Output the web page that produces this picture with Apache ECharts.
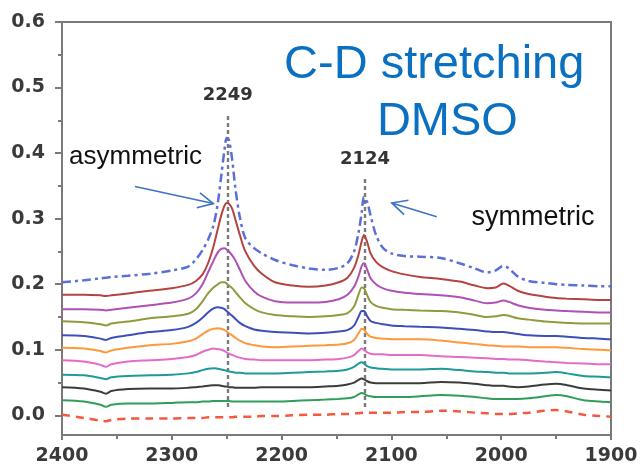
<!DOCTYPE html>
<html>
<head>
<meta charset="utf-8">
<script src="https://cdn.jsdelivr.net/npm/echarts@6/dist/echarts.min.js"></script>
<style>
  html, body { margin: 0; padding: 0; background: #fff; }
  #chart { width: 643px; height: 467px; }
</style>
</head>
<body>
<div id="chart"></div>
<script>
// Wavenumber grid (cm-1) shared by all spectra
const wavenumbers = [2400, 2380, 2365, 2360, 2355, 2340, 2320, 2300, 2285, 2278, 2272, 2267, 2262, 2258, 2255, 2252, 2250, 2248, 2245, 2242, 2238, 2233, 2225, 2218, 2206, 2190, 2175, 2160, 2148, 2140, 2134, 2130, 2127, 2125, 2122, 2119, 2114, 2108, 2100, 2088, 2074, 2055, 2038, 2024, 2013, 2005, 1998, 1993, 1985, 1975, 1960, 1950, 1940, 1925, 1910, 1900];

// Absorbance traces, bottom to top
const redDashed = [0.001, -0.004, -0.008, -0.009, -0.007, -0.005, -0.005, -0.005, -0.004, -0.004, -0.004, -0.003, -0.003, -0.003, -0.003, -0.003, -0.003, -0.003, -0.003, -0.002, -0.002, -0.002, -0.002, -0.001, -0.001, 0.000, 0.001, 0.001, 0.002, 0.002, 0.003, 0.003, 0.004, 0.004, 0.004, 0.004, 0.004, 0.004, 0.004, 0.005, 0.005, 0.007, 0.006, 0.004, 0.003, 0.002, 0.002, 0.002, 0.003, 0.004, 0.007, 0.008, 0.006, 0.001, -0.001, -0.002];
const green = [0.023, 0.021, 0.016, 0.013, 0.016, 0.018, 0.018, 0.019, 0.020, 0.020, 0.021, 0.021, 0.022, 0.022, 0.022, 0.022, 0.022, 0.022, 0.021, 0.021, 0.021, 0.021, 0.021, 0.021, 0.021, 0.022, 0.023, 0.024, 0.025, 0.026, 0.028, 0.032, 0.034, 0.033, 0.030, 0.029, 0.028, 0.028, 0.028, 0.028, 0.029, 0.031, 0.030, 0.028, 0.026, 0.025, 0.025, 0.025, 0.025, 0.026, 0.029, 0.031, 0.029, 0.023, 0.021, 0.020];
const black = [0.043, 0.041, 0.036, 0.033, 0.037, 0.040, 0.041, 0.041, 0.042, 0.043, 0.044, 0.045, 0.046, 0.046, 0.045, 0.044, 0.044, 0.043, 0.043, 0.042, 0.042, 0.042, 0.042, 0.043, 0.043, 0.043, 0.043, 0.044, 0.045, 0.047, 0.050, 0.054, 0.056, 0.055, 0.052, 0.050, 0.049, 0.049, 0.049, 0.049, 0.049, 0.051, 0.050, 0.048, 0.046, 0.045, 0.045, 0.044, 0.043, 0.044, 0.047, 0.048, 0.046, 0.041, 0.039, 0.038];
const teal = [0.062, 0.061, 0.057, 0.055, 0.058, 0.060, 0.061, 0.062, 0.064, 0.066, 0.069, 0.071, 0.072, 0.071, 0.070, 0.069, 0.068, 0.067, 0.066, 0.065, 0.065, 0.064, 0.064, 0.064, 0.064, 0.065, 0.066, 0.067, 0.068, 0.070, 0.074, 0.079, 0.081, 0.079, 0.075, 0.073, 0.072, 0.071, 0.070, 0.070, 0.070, 0.071, 0.069, 0.067, 0.066, 0.065, 0.065, 0.064, 0.064, 0.064, 0.065, 0.066, 0.064, 0.060, 0.059, 0.058];
const pink = [0.084, 0.082, 0.077, 0.074, 0.078, 0.082, 0.084, 0.086, 0.089, 0.092, 0.097, 0.100, 0.102, 0.101, 0.100, 0.098, 0.096, 0.094, 0.092, 0.090, 0.088, 0.086, 0.085, 0.084, 0.084, 0.084, 0.084, 0.085, 0.086, 0.088, 0.092, 0.098, 0.102, 0.100, 0.096, 0.094, 0.093, 0.093, 0.092, 0.092, 0.092, 0.090, 0.089, 0.088, 0.087, 0.086, 0.086, 0.085, 0.085, 0.084, 0.082, 0.081, 0.080, 0.079, 0.078, 0.078];
const orange = [0.103, 0.102, 0.098, 0.096, 0.099, 0.103, 0.107, 0.109, 0.113, 0.117, 0.124, 0.129, 0.132, 0.133, 0.132, 0.130, 0.128, 0.125, 0.122, 0.118, 0.114, 0.110, 0.107, 0.105, 0.104, 0.105, 0.106, 0.107, 0.108, 0.110, 0.115, 0.125, 0.132, 0.131, 0.124, 0.120, 0.118, 0.117, 0.116, 0.116, 0.116, 0.114, 0.111, 0.109, 0.107, 0.106, 0.105, 0.105, 0.105, 0.104, 0.104, 0.104, 0.103, 0.101, 0.100, 0.099];
const blue = [0.122, 0.121, 0.117, 0.115, 0.118, 0.122, 0.127, 0.130, 0.135, 0.141, 0.149, 0.157, 0.163, 0.165, 0.164, 0.162, 0.159, 0.156, 0.152, 0.147, 0.141, 0.136, 0.131, 0.129, 0.127, 0.126, 0.125, 0.126, 0.128, 0.130, 0.137, 0.150, 0.159, 0.159, 0.151, 0.144, 0.141, 0.139, 0.137, 0.136, 0.135, 0.134, 0.132, 0.130, 0.128, 0.127, 0.127, 0.126, 0.124, 0.122, 0.121, 0.121, 0.120, 0.118, 0.117, 0.116];
const olive = [0.1435, 0.142, 0.139, 0.137, 0.140, 0.143, 0.148, 0.151, 0.155, 0.162, 0.174, 0.186, 0.195, 0.200, 0.203, 0.203, 0.201, 0.198, 0.194, 0.188, 0.180, 0.171, 0.162, 0.157, 0.153, 0.151, 0.150, 0.151, 0.153, 0.156, 0.166, 0.184, 0.195, 0.194, 0.183, 0.173, 0.167, 0.164, 0.162, 0.161, 0.160, 0.159, 0.157, 0.153, 0.150, 0.151, 0.153, 0.152, 0.148, 0.146, 0.143, 0.142, 0.141, 0.140, 0.140, 0.140];
const purple = [0.162, 0.162, 0.161, 0.160, 0.161, 0.164, 0.168, 0.172, 0.178, 0.186, 0.200, 0.218, 0.236, 0.249, 0.254, 0.255, 0.253, 0.250, 0.244, 0.236, 0.222, 0.205, 0.189, 0.181, 0.174, 0.172, 0.172, 0.173, 0.177, 0.184, 0.196, 0.212, 0.228, 0.232, 0.222, 0.209, 0.200, 0.194, 0.190, 0.187, 0.185, 0.183, 0.180, 0.175, 0.171, 0.172, 0.175, 0.173, 0.168, 0.164, 0.161, 0.160, 0.159, 0.158, 0.157, 0.157];
const brown = [0.184, 0.184, 0.183, 0.182, 0.183, 0.186, 0.190, 0.194, 0.199, 0.205, 0.215, 0.232, 0.258, 0.285, 0.305, 0.320, 0.324, 0.323, 0.315, 0.298, 0.275, 0.250, 0.228, 0.216, 0.203, 0.198, 0.196, 0.198, 0.203, 0.210, 0.225, 0.245, 0.266, 0.275, 0.264, 0.247, 0.234, 0.226, 0.220, 0.215, 0.211, 0.208, 0.204, 0.198, 0.194, 0.195, 0.201, 0.198, 0.190, 0.185, 0.181, 0.179, 0.178, 0.177, 0.176, 0.176];
const blueDashDot = [0.203, 0.206, 0.209, 0.210, 0.211, 0.213, 0.216, 0.221, 0.227, 0.238, 0.252, 0.268, 0.290, 0.325, 0.365, 0.405, 0.423, 0.420, 0.390, 0.345, 0.302, 0.270, 0.255, 0.247, 0.237, 0.229, 0.224, 0.222, 0.225, 0.232, 0.250, 0.278, 0.310, 0.333, 0.325, 0.305, 0.275, 0.256, 0.247, 0.243, 0.242, 0.240, 0.232, 0.224, 0.218, 0.221, 0.228, 0.224, 0.212, 0.205, 0.202, 0.200, 0.199, 0.198, 0.197, 0.197];

// Axis ticks
const yTickValues = [0, 0.1, 0.2, 0.3, 0.4, 0.5, 0.6];
const yMinorTickValues = [0.05, 0.15, 0.25, 0.35, 0.45, 0.55];

// Band positions marked with dashed guides
const peakAsym = 2249;
const peakSym = 2124;

const traces = [
  { data: redDashed, color: '#f4583f', type: [8, 6], width: 2.5 },
  { data: green, color: '#2f9e5c' },
  { data: black, color: '#3b3b3b' },
  { data: teal, color: '#1f9a9c' },
  { data: pink, color: '#e46cc6' },
  { data: orange, color: '#ff983a' },
  { data: blue, color: '#3e4fb8' },
  { data: olive, color: '#8f9b3d' },
  { data: purple, color: '#b050b4' },
  { data: brown, color: '#b3443f' },
  { data: blueDashDot, color: '#5a6fd8', type: [9, 4, 3, 4], width: 2.5 }
];

const axisGray = '#7a7a7a';
const tickFont = { fontFamily: 'DejaVu Sans', fontSize: 19, fontWeight: 'bold', color: '#3a3a3a' };

const chart = echarts.init(document.getElementById('chart'));

const series = traces.map((t, k) => ({
  type: 'line',
  data: wavenumbers.map((w, i) => [w, t.data[i]]),
  showSymbol: false,
  symbol: 'none',
  smooth: 0.3,
  lineStyle: { color: t.color, width: t.width || 2, type: t.type || 'solid' },
  z: 2 + k,
  animation: false
}));

// Dashed guides at the two C-D bands, with their wavenumbers on top
series[0].markLine = {
  silent: true,
  symbol: 'none',
  animation: false,
  lineStyle: { color: '#7a7a7a', width: 2.4, type: [4, 3] },
  label: {
    position: 'end',
    distance: 9,
    fontFamily: 'DejaVu Sans',
    fontSize: 18,
    fontWeight: 'bold',
    color: '#333'
  },
  data: [
    [{ coord: [peakAsym, 0.0127], label: { formatter: String(peakAsym) } }, { coord: [peakAsym, 0.461] }],
    [{ coord: [peakSym, 0.0127], label: { formatter: String(peakSym) } }, { coord: [peakSym, 0.3635] }]
  ]
};

chart.setOption({
  animation: false,
  grid: { left: 62, right: 32, top: 22, bottom: 32, show: true, borderColor: axisGray, borderWidth: 2 },
  xAxis: {
    type: 'value',
    min: 1900,
    max: 2400,
    interval: 100,
    inverse: true,
    axisLine: { show: true, onZero: false, lineStyle: { color: axisGray, width: 2 } },
    axisTick: { show: true, length: 5, lineStyle: { color: axisGray, width: 2 } },
    minorTick: { show: true, splitNumber: 2, length: 4, lineStyle: { color: axisGray, width: 2 } },
    axisLabel: Object.assign({ margin: 12, formatter: v => String(v) }, tickFont),
    splitLine: { show: false }
  },
  yAxis: [
    {
      type: 'value',
      min: -0.03,
      max: 0.6,
      axisLine: { show: true, onZero: false, lineStyle: { color: axisGray, width: 2 } },
      axisTick: { show: true, customValues: yTickValues, length: 7, lineStyle: { color: axisGray, width: 2 } },
      axisLabel: Object.assign({ customValues: yTickValues, margin: 17, formatter: v => v.toFixed(1) }, tickFont),
      splitLine: { show: false }
    },
    {
      type: 'value',
      min: -0.03,
      max: 0.6,
      position: 'left',
      axisLine: { show: false },
      axisTick: { show: true, customValues: yMinorTickValues, length: 4, lineStyle: { color: axisGray, width: 2 } },
      axisLabel: { show: false },
      splitLine: { show: false }
    }
  ],
  series: series
});

// Annotations placed in data coordinates
const toPx = p => chart.convertToPixel({ gridIndex: 0 }, p);
const arrowColor = '#3d72c2';

function arrow(from, to) {
  const a = toPx(from), b = toPx(to);
  const ang = Math.atan2(b[1] - a[1], b[0] - a[0]);
  const len = 17, spread = 0.46;
  const w1 = [b[0] - len * Math.cos(ang - spread), b[1] - len * Math.sin(ang - spread)];
  const w2 = [b[0] - len * Math.cos(ang + spread), b[1] - len * Math.sin(ang + spread)];
  return [
    { type: 'line', shape: { x1: a[0], y1: a[1], x2: b[0], y2: b[1] }, style: { stroke: arrowColor, lineWidth: 1.6 }, z: 50 },
    { type: 'polyline', shape: { points: [w1, b, w2] }, style: { stroke: arrowColor, lineWidth: 1.6, fill: null }, z: 50 }
  ];
}

function label(text, at, size, color) {
  const p = toPx(at);
  return {
    type: 'text', x: p[0], y: p[1], z: 50,
    style: { text: text, fontFamily: 'Liberation Sans', fontSize: size, fill: color, align: 'center', verticalAlign: 'middle' }
  };
}

chart.setOption({
  graphic: [
    label('C-D stretching', [2061, 0.534], 47, '#0a70c2'),
    label('DMSO', [2049, 0.447], 47, '#0a70c2'),
    label('asymmetric', [2333, 0.394], 26, '#111'),
    label('symmetric', [1971, 0.301], 27, '#111'),
    ...arrow([2333.5, 0.349], [2262.2, 0.323]),
    ...arrow([2058.7, 0.303], [2099.7, 0.324])
  ]
});
</script>
</body>
</html>
